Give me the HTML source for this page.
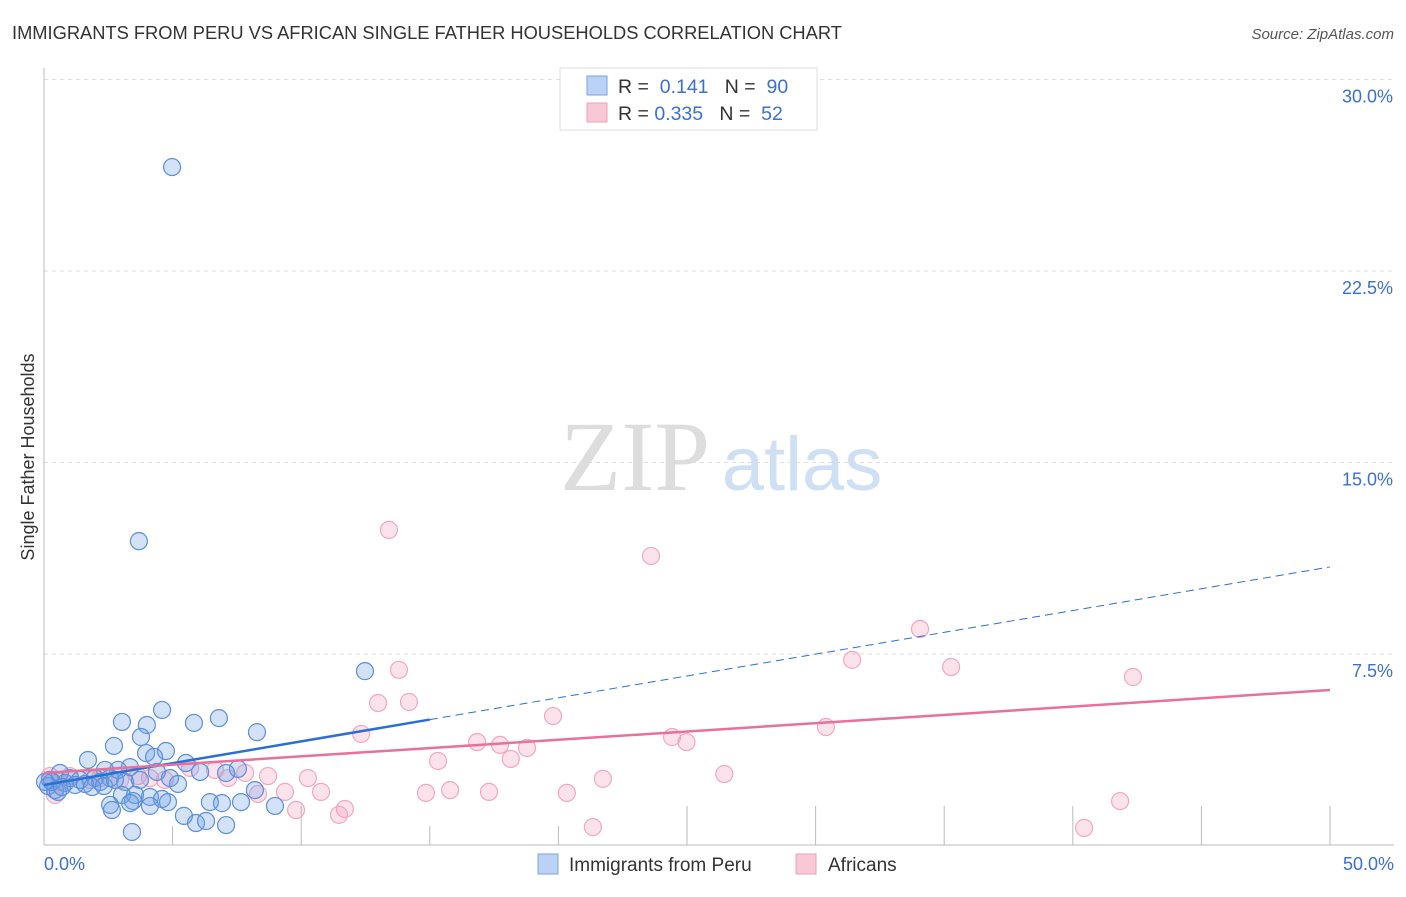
<!DOCTYPE html>
<html><head><meta charset="utf-8"><style>
body{margin:0;background:#fff;font-family:"Liberation Sans",sans-serif;}
svg text{font-family:"Liberation Sans",sans-serif;}
</style></head><body>
<svg id="chart" width="1406" height="892" xmlns="http://www.w3.org/2000/svg">
<text x="12" y="39" font-size="18.3" fill="#333">IMMIGRANTS FROM PERU VS AFRICAN SINGLE FATHER HOUSEHOLDS CORRELATION CHART</text>
<text x="1394" y="39" font-size="15" fill="#555" font-style="italic" text-anchor="end">Source: ZipAtlas.com</text>
<text x="635" y="490" font-size="100" fill="#ddd" style="font-family:'Liberation Serif',serif" text-anchor="middle">ZIP</text>
<text x="802" y="490" font-size="76" fill="#cfe0f4" text-anchor="middle">atlas</text>
<text transform="translate(34,457) rotate(-90)" font-size="18" fill="#333" text-anchor="middle">Single Father Households</text>
<g id="grid"></g><g id="marks"></g><g id="lines"></g>
<g>
<rect x="560" y="68" width="257" height="62" fill="#fff" stroke="#ddd"/>
<rect x="587" y="76" width="20" height="19" fill="#b9d2f5" stroke="#7aa3e0"/>
<rect x="587" y="103" width="20" height="19" fill="#f8c8d6" stroke="#f0a0bb"/>
<text x="618" y="93" font-size="19.5" fill="#333">R = <tspan fill="#3a70d0">&#160;0.141</tspan>&#160;&#160;&#160;N = <tspan fill="#3a70d0">&#160;90</tspan></text>
<text x="618" y="120" font-size="19.5" fill="#333">R = <tspan fill="#3a70d0">0.335</tspan>&#160;&#160;&#160;N = <tspan fill="#3a70d0">&#160;52</tspan></text>
</g>
<g>
<rect x="538" y="854" width="20" height="20" fill="#b9d2f5" stroke="#7aa3e0"/>
<text x="569" y="871" font-size="19" fill="#333">Immigrants from Peru</text>
<rect x="796" y="854" width="20" height="20" fill="#f8c8d6" stroke="#f0a0bb"/>
<text x="828" y="871" font-size="19" fill="#333">Africans</text>
</g>
</svg>
<script>
const yTicks=[7.5,15,22.5,30];
const yTickLabels=["7.5%","15.0%","22.5%","30.0%"];
const xTicks=[0,5,10,15,20,25,30,35,40,45,50];
const peruX=[4.98,3.69,12.48,8.28,3.03,4.59,5.83,6.80,4.00,3.77,2.72,1.71,4.74,3.97,4.28,5.52,7.54,7.08,3.34,2.88,2.37,0.62,1.01,0.23,0.16,0.43,1.40,1.98,2.18,2.57,3.15,3.73,4.39,4.90,5.21,3.54,3.03,4.12,3.46,4.59,4.82,2.57,3.35,4.12,2.64,6.45,6.92,7.66,8.20,8.98,5.44,5.91,6.30,7.08,3.42,0.82,1.21,1.59,0.54,0.31,1.87,2.33,0.70,2.76,0.04,6.07];
const peruY=[26.57,11.92,6.83,4.44,4.84,5.31,4.80,4.99,4.72,4.25,3.90,3.35,3.70,3.62,3.47,3.23,3.00,2.84,3.07,2.96,2.96,2.84,2.64,2.57,2.33,2.17,2.57,2.64,2.49,2.64,2.49,2.57,2.88,2.64,2.41,1.98,1.98,1.90,1.74,1.82,1.70,1.59,1.66,1.55,1.39,1.70,1.66,1.70,2.17,1.55,1.16,0.88,0.96,0.80,0.53,2.45,2.37,2.41,2.10,2.49,2.29,2.33,2.29,2.57,2.49,2.88];
const afrX=[13.41,23.60,34.06,31.42,35.27,42.34,13.80,12.99,14.19,19.79,30.40,12.33,16.84,17.73,18.78,24.42,24.98,18.15,15.32,21.73,26.45,8.71,10.26,7.82,5.68,6.65,7.16,8.32,9.37,10.77,9.80,11.70,11.47,14.85,15.79,17.30,20.33,21.34,41.84,40.44,0.23,0.43,1.01,1.79,2.96,4.12,4.70,0.62,2.18,3.65];
const afrY=[12.36,11.34,8.48,7.27,6.99,6.60,6.88,5.58,5.62,5.07,4.64,4.37,4.05,3.94,3.82,4.25,4.05,3.39,3.31,2.61,2.80,2.72,2.64,2.84,3.04,2.96,2.64,2.02,2.10,2.10,1.39,1.43,1.20,2.06,2.17,2.10,2.06,0.72,1.74,0.69,2.72,1.98,2.72,2.57,2.57,2.64,2.57,2.49,2.64,2.72];
const peruTrend=[2.37,10.91]; // value at x=0, x=50
const afrTrend=[2.84,6.09];
const NS="http://www.w3.org/2000/svg";
const X=v=>44+v/50*1286, Y=v=>845.5-v/7.5*191.5;
function mk(t,a,p){const e=document.createElementNS(NS,t);for(const k in a)e.setAttribute(k,a[k]);p.appendChild(e);return e;}
const grid=document.getElementById('grid'),marks=document.getElementById('marks'),lines=document.getElementById('lines');
yTicks.forEach((t,i)=>{
 const l=mk('line',{x1:44,x2:1394,y1:Y(t),y2:Y(t),stroke:'#ddd','stroke-dasharray':'4,4'},grid);
 
 
 const tx=mk('text',{x:1393,y:Y(t)+23,'font-size':18,fill:'#3a70d0','text-anchor':'end'},grid);
 tx.textContent=yTickLabels[i];
 
 
});
mk('line',{x1:44,x2:44,y1:68,y2:845,stroke:'#bbb'},grid);
mk('line',{x1:44,x2:1394,y1:845,y2:845,stroke:'#bbb'},grid);
xTicks.forEach(t=>{
 const short=(t==5||t==15||t==20);
 const l=mk('line',{x1:X(t),x2:X(t),y1:short?826:806,y2:845,stroke:'#bbb'},grid);
 
 
});
const xl0=mk('text',{x:44,y:870,'font-size':18,fill:'#3a70d0'},grid);xl0.textContent='0.0%';


const xl1=mk('text',{x:1394,y:870,'font-size':18,fill:'#3a70d0','text-anchor':'end'},grid);xl1.textContent='50.0%';


afrX.forEach((v,i)=>{
 const c=mk('circle',{cx:X(v),cy:Y(afrY[i]),r:8.5,fill:'rgba(244,160,188,0.3)',stroke:'#f2a7c0','stroke-width':1.2},marks);
 
 
});
peruX.forEach((v,i)=>{
 const c=mk('circle',{cx:X(v),cy:Y(peruY[i]),r:8.5,fill:'rgba(110,160,230,0.3)',stroke:'#5b8fdc','stroke-width':1.2},marks);
 
 
});
const pAt=x=>peruTrend[0]+(peruTrend[1]-peruTrend[0])*x/50;
const a=mk('line',{x1:X(0),y1:Y(pAt(0)),x2:X(15),y2:Y(pAt(15)),stroke:'#2a6fd6','stroke-width':2.5},lines);


const b=mk('line',{x1:X(15),y1:Y(pAt(15)),x2:X(50),y2:Y(pAt(50)),stroke:'#2a6fd6','stroke-width':1,'stroke-dasharray':'8,5'},lines);


const c=mk('line',{x1:X(0),y1:Y(afrTrend[0]),x2:X(50),y2:Y(afrTrend[1]),stroke:'#e8709a','stroke-width':2.5},lines);


</script>
</body></html>
